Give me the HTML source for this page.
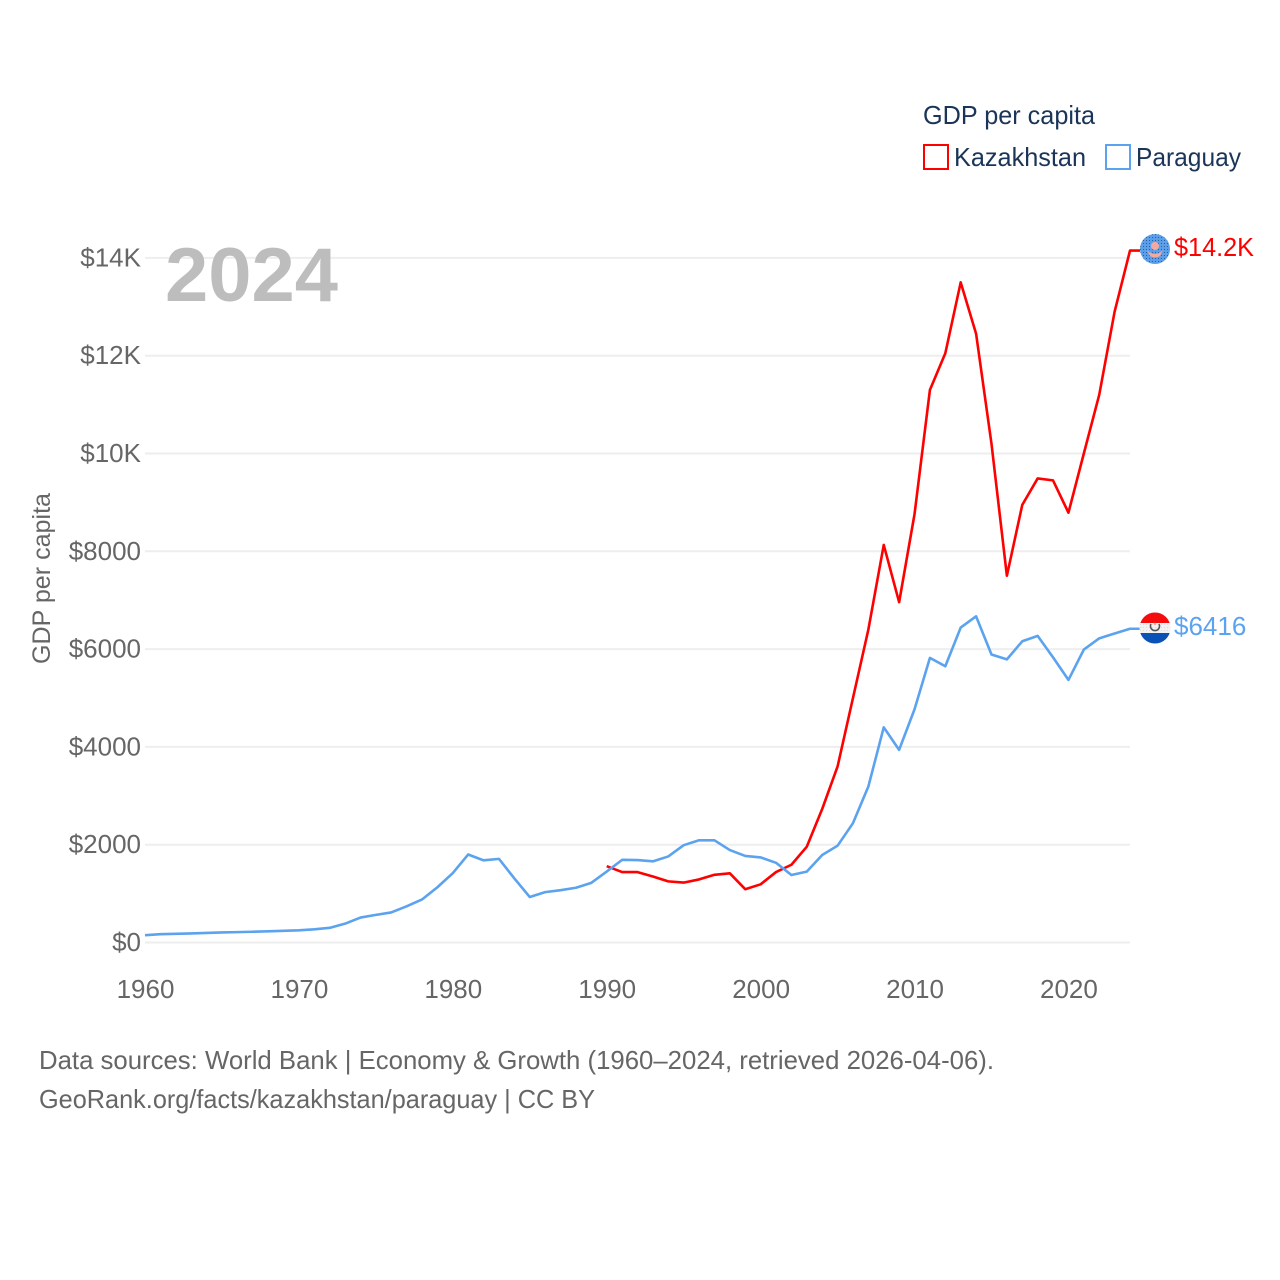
<!DOCTYPE html>
<html>
<head>
<meta charset="utf-8">
<title>GDP per capita: Kazakhstan and Paraguay</title>
<style>
html,body{margin:0;padding:0;background:#fff;}
svg{display:block;font-family:"Liberation Sans",sans-serif;}
</style>
</head>
<body>
<svg id="chart" width="1280" height="1280" viewBox="0 0 1280 1280" xmlns="http://www.w3.org/2000/svg">
  <defs>
    <clipPath id="clip-kz"><circle cx="1155" cy="249" r="15"/></clipPath>
    <clipPath id="clip-py"><circle cx="1155" cy="628" r="15.5"/></clipPath>
    <pattern id="kz-dots" width="3" height="3" patternUnits="userSpaceOnUse"><rect width="3" height="3" fill="#5b9fea"/><rect width="1" height="1" fill="#2a5f9e"/></pattern>
    <pattern id="py-dots" width="3" height="3" patternUnits="userSpaceOnUse"><rect width="3" height="3" fill="#f2f2f2"/><rect width="1" height="1" fill="#dddddd"/></pattern>
  </defs>
  <rect width="1280" height="1280" fill="#ffffff"/>
  <g id="grid"></g>
  <g id="yticks"></g>
  <g id="xticks"></g>
  <text x="165" y="301" font-size="76" font-weight="bold" fill="#bdbdbd" textLength="173" lengthAdjust="spacingAndGlyphs">2024</text>
  <text transform="translate(50,664) rotate(-90)" font-size="25" fill="#666666" textLength="171" lengthAdjust="spacingAndGlyphs">GDP per capita</text>
  <g>
    <text x="923" y="124" font-size="26" fill="#1a3557" textLength="172" lengthAdjust="spacingAndGlyphs">GDP per capita</text>
    <rect x="924" y="145" width="24" height="24" fill="#ffffff" stroke="#ff0000" stroke-width="2"/>
    <text x="954" y="166" font-size="26" fill="#1a3557" textLength="132" lengthAdjust="spacingAndGlyphs">Kazakhstan</text>
    <rect x="1106" y="145" width="24" height="24" fill="#ffffff" stroke="#5ba3ef" stroke-width="2"/>
    <text x="1136" y="166" font-size="26" fill="#1a3557" textLength="105" lengthAdjust="spacingAndGlyphs">Paraguay</text>
  </g>
  <g id="series"></g>
  <g clip-path="url(#clip-kz)">
    <rect x="1139" y="233" width="32" height="32" fill="url(#kz-dots)"/>
    <circle cx="1155" cy="246" r="4" fill="#f3a9a0"/>
    <path d="M1147 250 Q1155 258 1163 250 L1160 256 Q1155 259 1150 256 Z" fill="#f3a9a0"/>
  </g>
  <g clip-path="url(#clip-py)">
    <rect x="1139" y="612" width="32" height="11" fill="#f50d0d"/>
    <rect x="1139" y="623" width="32" height="10" fill="url(#py-dots)"/>
    <rect x="1139" y="633" width="32" height="12" fill="#0a52b5"/>
    <path d="M1151 624 A4.5 4.5 0 1 0 1159 624" fill="none" stroke="#555555" stroke-width="1.6"/>
    <circle cx="1155" cy="624" r="1.2" fill="#f3a9a0"/>
  </g>
  <g id="end-labels"></g>
  <text x="39" y="1069" font-size="26" fill="#666666" textLength="955" lengthAdjust="spacingAndGlyphs">Data sources: World Bank | Economy &amp; Growth (1960–2024, retrieved 2026-04-06).</text>
  <text x="39" y="1108" font-size="26" fill="#666666" textLength="556" lengthAdjust="spacingAndGlyphs">GeoRank.org/facts/kazakhstan/paraguay | CC BY</text>
</svg>
<script>
var yTickValues = [0, 2000, 4000, 6000, 8000, 10000, 12000, 14000];
var yTickLabels = ["$0", "$2000", "$4000", "$6000", "$8000", "$10K", "$12K", "$14K"];
var xTickYears = [1960, 1970, 1980, 1990, 2000, 2010, 2020];
var xTickLabels = ["1960", "1970", "1980", "1990", "2000", "2010", "2020"];
var paraguayStartYear = 1960;
var paraguayValues = [150, 170, 178, 185, 195, 205, 212, 220, 228, 238, 250, 270, 300, 385, 510, 565, 615, 740, 880, 1130, 1420, 1800, 1680, 1710, 1310, 930, 1030, 1070, 1120, 1220, 1450, 1690, 1685, 1660, 1760, 1990, 2090, 2090, 1890, 1770, 1740, 1630, 1380, 1450, 1790, 1980, 2440, 3190, 4400, 3940, 4770, 5820, 5650, 6440, 6670, 5890, 5790, 6160, 6270, 5830, 5370, 5990, 6220, 6320, 6416];
var kazakhstanStartYear = 1990;
var kazakhstanValues = [1560, 1440, 1440, 1350, 1250, 1225, 1290, 1385, 1415, 1090, 1190, 1440, 1590, 1960, 2730, 3600, 5000, 6400, 8130, 6960, 8760, 11300, 12050, 13500, 12450, 10200, 7500, 8950, 9490, 9450, 8790, 10000, 11200, 12900, 14150];
var endLabels = ["$14.2K", "$6416"];

var SVG_NS = "http://www.w3.org/2000/svg";
function xScale(year) { return 145 + (year - 1960) * (985 / 64); }
function yScale(value) { return 942.5 - value * 0.0489; }
function make(tag, parent, attrs) {
  var el = document.createElementNS(SVG_NS, tag);
  for (var k in attrs) { el.setAttribute(k, attrs[k]); }
  parent.appendChild(el);
  return el;
}
var grid = document.getElementById("grid");
var yticks = document.getElementById("yticks");
var xticks = document.getElementById("xticks");
var series = document.getElementById("series");
var endGroup = document.getElementById("end-labels");

yTickValues.forEach(function (v, i) {
  var line = make("line", grid, { x1: 145, x2: 1130, y1: yScale(v), y2: yScale(v), stroke: "#eeeeee", "stroke-width": 2 });
  
  
  var t = make("text", yticks, { x: 141, y: yScale(v) + 8.5, "text-anchor": "end", "font-size": 26, fill: "#666666" });
  
  
  t.textContent = yTickLabels[i];
});
xTickYears.forEach(function (yr, i) {
  var t = make("text", xticks, { x: xScale(yr) + 0.5, y: 998, "text-anchor": "middle", "font-size": 26, fill: "#666666" });
  
  
  t.textContent = xTickLabels[i];
});
function linePoints(start, values) {
  return values.map(function (v, i) { return xScale(start + i).toFixed(2) + "," + yScale(v).toFixed(2); });
}
var kzPts = linePoints(kazakhstanStartYear, kazakhstanValues);
var pyPts = linePoints(paraguayStartYear, paraguayValues);
var lastKz = kazakhstanValues[kazakhstanValues.length - 1];
var lastPy = paraguayValues[paraguayValues.length - 1];

var kzLine = make("polyline", series, { points: kzPts.join(" ") + " 1140," + yScale(lastKz).toFixed(2), fill: "none", stroke: "#ff0000", "stroke-width": 2.6, "stroke-linejoin": "round" });


var pyLine = make("polyline", series, { points: pyPts.join(" ") + " 1140," + yScale(lastPy).toFixed(2), fill: "none", stroke: "#5ba3ef", "stroke-width": 2.6, "stroke-linejoin": "round" });



var kzEnd = make("text", endGroup, { x: 1174, y: 256, "font-size": 26, fill: "#ff0000", textLength: 80, lengthAdjust: "spacingAndGlyphs" });


kzEnd.textContent = endLabels[0];
var pyEnd = make("text", endGroup, { x: 1174, y: 635, "font-size": 26, fill: "#5ba3ef" });


pyEnd.textContent = endLabels[1];
</script>
</body>
</html>
